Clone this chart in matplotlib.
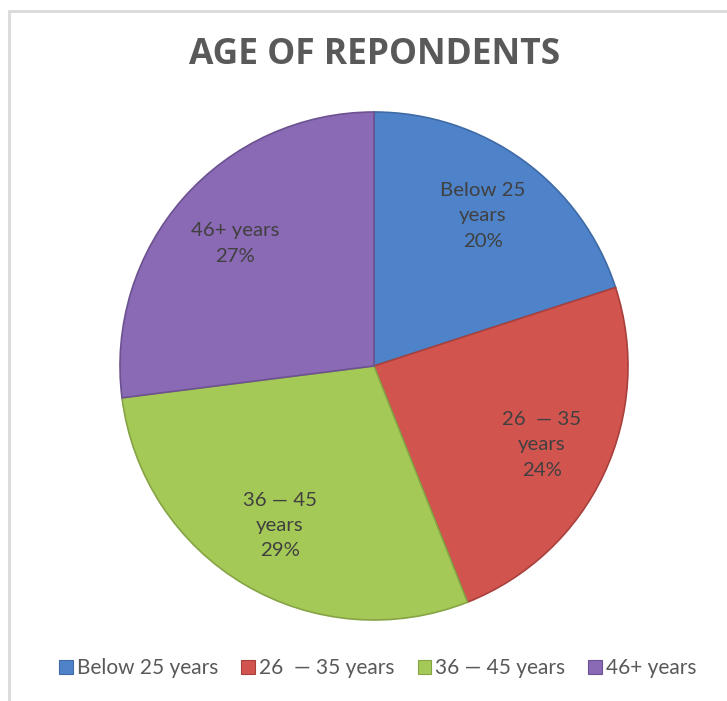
import matplotlib
matplotlib.use("Agg")
import matplotlib.pyplot as plt
from matplotlib.patches import Rectangle

# data
labels = ["Below 25 years", "26  \u2014 35 years", "36 \u2014 45 years", "46+ years"]
slice_text = ["Below 25\nyears\n20%", "26  \u2014 35\nyears\n24%", "36 \u2014 45\nyears\n29%", "46+ years\n27%"]
shares = [20, 24, 29, 27]
colors = ["#4f83c9", "#d2544f", "#a5c956", "#8a69b5"]
edge_colors = ["#3f6aa6", "#a8403c", "#86a445", "#6c5290"]

W, H = 727, 701
fig = plt.figure(figsize=(W / 100, H / 100), dpi=100)
fig.patch.set_facecolor("white")

# light chart frame (right/bottom run off the picture)
fig.patches.append(Rectangle((9 / W, -0.1), 1.2, (H - 11) / H + 0.1,
                             transform=fig.transFigure, fill=False,
                             edgecolor="#d9d9d9", linewidth=2))

cx, cy, r = 374, 366, 254
ax = fig.add_axes([(cx - r) / W, (H - cy - r) / H, 2 * r / W, 2 * r / H])
wedges, texts = ax.pie(shares, colors=colors, startangle=90, counterclock=False,
                       labels=slice_text, labeldistance=0.73,
                       wedgeprops=dict(linewidth=1.2),
                       textprops=dict(fontsize=14.7, color="#404040",
                                      family=["Lato", "DejaVu Sans"],
                                      ha="center", va="center",
                                      multialignment="center", linespacing=1.6))
for w, ec in zip(wedges, edge_colors):
    w.set_edgecolor(ec)
ax.set_xlim(-1, 1)
ax.set_ylim(-1, 1)
ax.axis("off")

fig.text(375 / W, 1 - 55 / H, "AGE OF REPONDENTS", ha="center", va="center",
         fontsize=25.5, fontweight="bold", color="#595959",
         family=["Open Sans", "DejaVu Sans"])

handles = [Rectangle((0, 0), 1, 1, facecolor=c, edgecolor=e, linewidth=0.8)
           for c, e in zip(colors, edge_colors)]
leg = fig.legend(handles, labels, loc="center", bbox_to_anchor=(378 / W, 1 - 668 / H),
                 ncol=4, frameon=False, handlelength=0.65, handleheight=0.65,
                 handletextpad=0.2, columnspacing=1.1,
                 prop=dict(family=["Lato", "DejaVu Sans"], size=15))
for t in leg.get_texts():
    t.set_color("#595959")

fig.savefig("out.png", dpi=100, facecolor="white")
